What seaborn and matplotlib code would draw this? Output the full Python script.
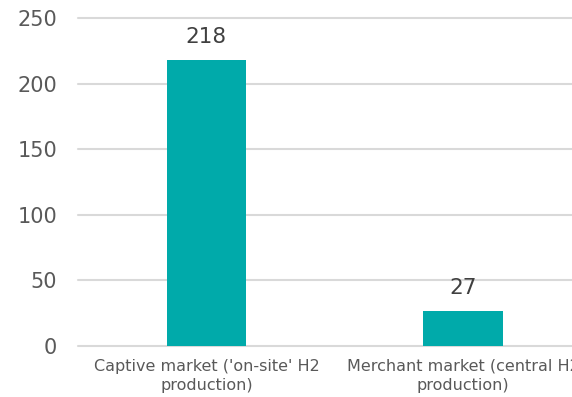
import matplotlib
matplotlib.use("Agg")
import matplotlib.pyplot as plt
import seaborn as sns
import pandas as pd

categories = ["Captive market ('on-site' H2\nproduction)", "Merchant market (central H2\nproduction)"]
values = [218, 27]
yticks = [0, 50, 100, 150, 200, 250]

sns.set_theme(style="white")
plt.rcParams['font.family'] = ['DejaVu Sans']

df = pd.DataFrame({"cat": categories, "val": values})

fig = plt.figure(figsize=(5.72, 3.97), dpi=100)
ax = fig.add_axes([78/572, 51/397, 513.5/572, 328/397])
sns.barplot(data=df, x="cat", y="val", color="#00AAAA", width=0.31, ax=ax, saturation=1)
for p in ax.patches:
    p.set_edgecolor("none")
    p.set_zorder(3)
ax.set_xlim(-0.5, 1.5)
ax.set_ylim(0, 250)
ax.set_yticks(yticks)
ax.yaxis.grid(True, color="#d9d9d9", linewidth=1.5)
for gl in ax.get_ygridlines():
    gl.set_clip_on(False)
ax.set_axisbelow(True)
for s in ax.spines.values():
    s.set_visible(False)
ax.set_xlabel("")
ax.set_ylabel("")
ax.tick_params(axis="y", length=0, labelsize=15, labelcolor="#595959", pad=15)
ax.tick_params(axis="x", length=0, labelsize=11.5, labelcolor="#595959", pad=9)
for lbl in ax.get_xticklabels():
    lbl.set_linespacing(1.35)
for c in ax.containers:
    ax.bar_label(c, labels=[str(v) for v in values], fontsize=15.5, color="#404040", padding=9)

fig.savefig("out.png", dpi=100)
